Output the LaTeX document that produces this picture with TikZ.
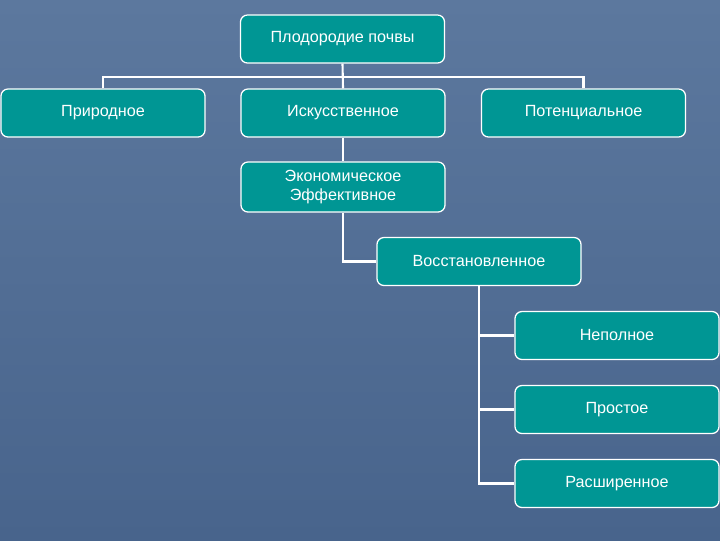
\documentclass[tikz,border=0pt]{standalone}
\usepackage{fontspec}
\setmainfont{Liberation Sans}
\usepackage{xcolor}
\usetikzlibrary{shapes,positioning,calc}

\definecolor{slatetop}{RGB}{92,120,158}
\definecolor{slatebot}{RGB}{72,100,140}
\definecolor{boxteal}{RGB}{0,150,148}

\begin{document}
\begin{tikzpicture}[x=0.025cm, y=-0.025cm,
  box/.style={draw=white, line width=0.9pt, rectangle, rounded corners=5pt, fill=boxteal, text=white, align=center,
    minimum width=5.1cm, minimum height=1.2cm, font=\fontsize{11.5}{13.5}\selectfont},
  link/.style={draw=white, line width=1.5pt}]
  % background
  \shade[top color=slatetop, bottom color=slatebot] (0,0) rectangle (720,540);
  \useasboundingbox (0,0) rectangle (720,540);

  \node[box] (soil) at (342.5,39) {Плодородие почвы};

  \node[box] (nat) at (103,113) {Природное};
  \node[box] (art) at (343,113) {Искусственное};
  \node[box] (pot) at (583.5,113) {Потенциальное};

  \node[box, minimum height=1.25cm] (eco) at (343,187) {Экономическое\\Эффективное};

  \node[box] (rest) at (479,261.5) {Восстановленное};

  \node[box] (part) at (617,335.5) {Неполное};
  \node[box] (simp) at (617,409.5) {Простое};
  \node[box] (ext) at (617,483.5) {Расширенное};

  \coordinate (bus) at (343,77);

  \draw[link] (soil.south) -- (art.north);
  \draw[link] (nat.north) |- (bus) -| (pot.north);
  \draw[link] (art.south) -- (eco.north);
  \draw[link] (eco.south) |- (rest.west);

  % branches of the restored one
  \draw[link] (rest.south) |- (ext.west);
  \draw[link] (rest.south) |- (part.west);
  \draw[link] (rest.south) |- (simp.west);
\end{tikzpicture}
\end{document}
